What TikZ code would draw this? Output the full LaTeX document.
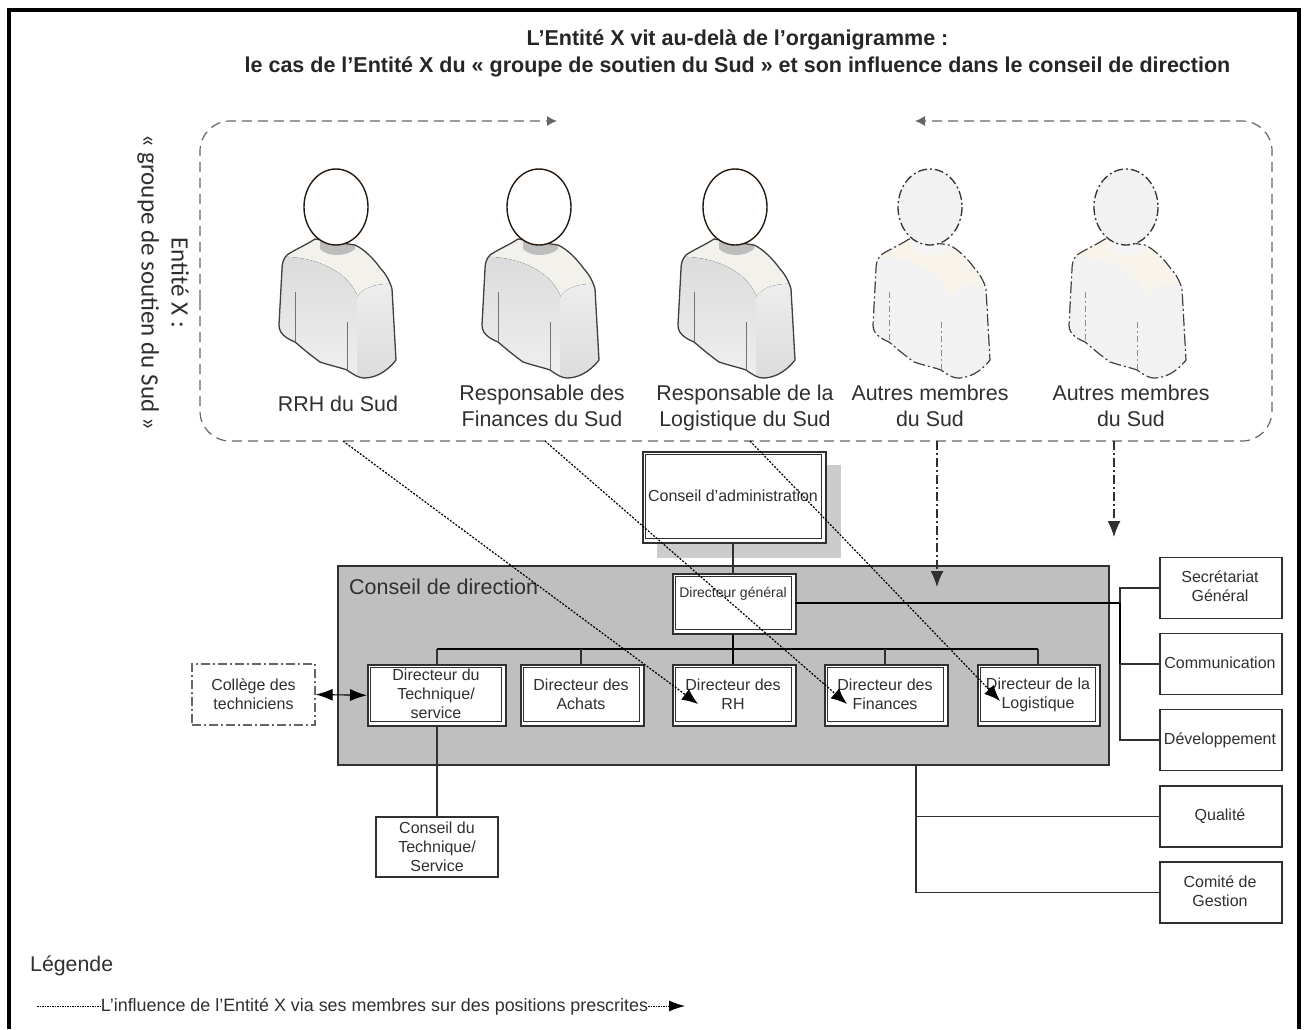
\documentclass[tikz,border=0pt]{standalone}
\usepackage{fontspec}
\setmainfont{Liberation Sans}
\newfontfamily\sidefont{Carlito}
\usetikzlibrary{arrows.meta}
\definecolor{ink}{HTML}{303030}
\definecolor{panelgray}{HTML}{BFBFBF}
\definecolor{yoke}{HTML}{F3F1EB}
\definecolor{lightyoke}{HTML}{F8F4EC}
\definecolor{lightbody}{HTML}{F2F2F2}
\tikzset{
  px/.style={x=1pt,y=-1pt},
  boxtxt/.style={font=\fontsize{16}{19}\selectfont,text=ink,align=center,inner sep=0pt},
  persontxt/.style={font=\fontsize{21.4}{26}\selectfont,text=ink,align=center,inner sep=0pt},
  plainbox/.style={draw=ink,line width=1.3pt,fill=white},
  wire/.style={draw=ink,line width=1.3pt},
  thickwire/.style={draw=black,line width=1.7pt},
  bigtip/.style={-{Latex[length=16pt,width=13pt]}},
  infl/.style={draw=black,line width=1.2pt,dash pattern=on 2pt off 1.5pt,bigtip},
  dashdotline/.style={draw=ink,line width=1.3pt,dash pattern=on 9pt off 3pt on 2pt off 3pt},
  groupline/.style={draw=black!60,line width=1.2pt,dash pattern=on 10pt off 6pt,rounded corners=30pt},
  headdark/.style={draw=black!80!brown,line width=1.4pt,fill=white},
  headlight/.style={draw=black!80,line width=1.3pt,dash pattern=on 9pt off 3pt on 2pt off 3pt,fill=lightbody},
  bodydark/.style={draw=black!75,line width=1.3pt},
  bodylight/.style={draw=black!75,line width=1.2pt,dash pattern=on 12pt off 3pt on 2pt off 3pt},
}
\newcommand{\dblrect}[5]{%
  \node[draw=ink,line width=1.6pt,fill=white,minimum width=#3-#1,minimum height=#4-#2,inner sep=0pt,anchor=north west] (#5) at (#1,#2) {};
  \draw[ink,line width=1.3pt] (#1+3.4,#2+3.4) rectangle (#3-3.4,#4-3.4);
}
\newcommand{\personfig}[5]{% x, paint macro, body style, fold style, head style
  \begin{scope}[shift={(#1,207)}]
    \def\bodypath{(-21,32) .. controls (-30,38) and (-42,43) .. (-49,48) .. controls (-53,52) and (-54,57) .. (-54,62) -- (-57,118) .. controls (-57,123) and (-55,127) .. (-49,131) .. controls (-46,133) and (-43,134) .. (-41,135) .. controls (-36,139) and (-31,144) .. (-16,155) .. controls (-4,159) and (6,161) .. (11,163) .. controls (18,168) and (23,171) .. (28,171) .. controls (38,171) and (50,166) .. (60,153) -- (56,82) .. controls (54,74) and (49,66) .. (45,62) .. controls (38,52) and (28,42) .. (19,38) -- cycle}
    \begin{scope}
      \clip \bodypath;
      #2
    \end{scope}
    \path[#3] \bodypath;
    \path[#4] (-41,85) -- (-41,135);
    \path[#4] (11,115) -- (11,163);
    \path[#5] (0,0) ellipse[x radius=32,y radius=38];
  \end{scope}
}
\newcommand{\darkpaint}{%
  \fill[yoke] (-60,25) rectangle (65,100);
  \fill[top color=black!14,bottom color=black!6] (-60,50) .. controls (-25,48) and (10,62) .. (21,88) -- (21,175) -- (-60,175) -- cycle;
  \fill[top color=black!7,bottom color=black!14] (21,90) .. controls (28,80) and (40,76) .. (62,77) -- (62,175) -- (21,175) -- cycle;
  \fill[black!26] (-16,30) -- (19,30) -- (19,42) .. controls (10,50) and (-8,50) .. (-16,42) -- cycle;
}
\newcommand{\lightpaint}{%
  \fill[lightyoke] (-60,25) rectangle (65,100);
  \fill[lightbody] (-60,50) .. controls (-25,48) and (10,62) .. (21,88) -- (21,175) -- (-60,175) -- cycle;
  \fill[lightbody] (21,90) .. controls (28,80) and (40,76) .. (62,77) -- (62,175) -- (21,175) -- cycle;
  \fill[black!4] (-16,30) -- (19,30) -- (19,42) .. controls (10,50) and (-8,50) .. (-16,42) -- cycle;
}
\begin{document}
\begin{tikzpicture}[px]
\useasboundingbox (0,0) rectangle (1304,1029);
\fill[white] (0,0) rectangle (1304,1029);
\draw[black,line width=4pt] (9,1029) -- (9,9.5) -- (1299,9.5) -- (1299,1029);

% title
\node[font=\bfseries\fontsize{21.5}{27}\selectfont,text=black!85,align=center,inner sep=0pt] (title) at (737.5,53.5)
  {L’Entité X vit au-delà de l’organigramme :\\le cas de l’Entité X du « groupe de soutien du Sud » et son influence dans le conseil de direction};

% side label
\node[font=\sidefont\fontsize{25}{30}\selectfont,text=ink,rotate=-90,align=center,inner sep=0pt] (side) at (163,282.5) {Entité X :\\« groupe de soutien du Sud »};

% group outline
\coordinate (gl) at (557,121);
\coordinate (gr) at (915,121);
\draw[groupline,-{Latex[length=10pt,width=10pt]}] (200,300) -- (200,121) -- (gl);
\draw[groupline,-{Latex[length=10pt,width=10pt]}] (1272,300) -- (1272,121) -- (gr);
\draw[groupline] (200,300) -- (200,441) -- (1272,441) -- (1272,300);

% persons
\personfig{336}{\darkpaint}{bodydark}{draw=black!55,line width=1pt}{headdark}
\personfig{539}{\darkpaint}{bodydark}{draw=black!55,line width=1pt}{headdark}
\personfig{735}{\darkpaint}{bodydark}{draw=black!55,line width=1pt}{headdark}
\personfig{930}{\lightpaint}{bodylight}{draw=black!45,line width=1pt,dash pattern=on 6pt off 3pt on 2pt off 3pt}{headlight}
\personfig{1126}{\lightpaint}{bodylight}{draw=black!45,line width=1pt,dash pattern=on 6pt off 3pt on 2pt off 3pt}{headlight}

\node[persontxt] (p1) at (338,404) {RRH du Sud};
\node[persontxt] (p2) at (542,406) {Responsable des\\Finances du Sud};
\node[persontxt] (p3) at (745,408) {Responsable de la\\Logistique du Sud};
\node[persontxt] (p4) at (930,406) {Autres membres\\du Sud};
\node[persontxt] (p5) at (1131,406) {Autres membres\\du Sud};

% conseil d'administration
\fill[black!20] (657,465) rectangle (841,558);
\dblrect{642}{451}{825}{542}{ca}
\node[boxtxt] (catxt) at (733,496) {Conseil d’administration};

% panel
\node[draw=ink,line width=1.5pt,fill=panelgray,minimum width=771pt,minimum height=199pt,inner sep=0pt,anchor=north west] (panel) at (337,565) {};
\node[font=\fontsize{21.5}{24}\selectfont,text=ink,anchor=west,inner sep=0pt] (paneltxt) at (349,587) {Conseil de direction};

% internal wiring
\draw[thickwire,line width=1.3pt] (437,649) -- (1038,649);
\foreach \wx in {437,581,885,1038} \draw[wire] (\wx,649) -- (\wx,664);
\draw[wire] (733,542) -- (733,573);
\draw[thickwire] (733,633) -- (733,664);

% directors
\dblrect{672}{573}{795}{633}{dg}
\node[boxtxt,font=\fontsize{14}{19}\selectfont] (dgt) at (733,594) {Directeur général};
\dblrect{367}{664}{505}{725}{dt}
\node[boxtxt] (dtt) at (436,694) {Directeur du\\Technique/\\service};
\dblrect{520}{664}{643}{725}{da}
\node[boxtxt] (dat) at (581,694) {Directeur des\\Achats};
\dblrect{672}{664}{795}{725}{drh}
\node[boxtxt] (drht) at (733,694) {Directeur des\\RH};
\dblrect{824}{664}{947}{725}{df}
\node[boxtxt] (dft) at (885,694) {Directeur des\\Finances};
\dblrect{977}{664}{1099}{725}{dl}
\node[boxtxt] (dlt) at (1038,695) {Directeur de la\\Logistique};

% right boxes
\node[plainbox,minimum width=122pt,minimum height=61pt,inner sep=0pt] (s1) at (1221,588) {};
\node[plainbox,minimum width=122pt,minimum height=61pt,inner sep=0pt] (s2) at (1221,664) {};
\node[plainbox,minimum width=122pt,minimum height=61pt,inner sep=0pt] (s3) at (1221,740) {};
\node[plainbox,minimum width=122pt,minimum height=61pt,inner sep=0pt] (s4) at (1221,816.5) {};
\node[plainbox,minimum width=122pt,minimum height=61pt,inner sep=0pt] (s5) at (1221,892.5) {};
\node[boxtxt] (s1t) at (1220,586.5) {Secrétariat\\Général};
\node[boxtxt] (s2t) at (1220,663) {Communication};
\node[boxtxt] (s3t) at (1220,740.5) {Développement};
\node[boxtxt] (s4t) at (1220,816.5) {Qualité};
\node[boxtxt] (s5t) at (1220,891.5) {Comité de\\Gestion};

\coordinate (dgr) at (795,603);
\coordinate (rb) at (1120,603);
\draw[thickwire] (dgr) -- (rb);
\draw[thickwire] (rb) -- (1120,664);
\draw[wire] (1120,664) -- (1120,740) -- (s3.west);
\draw[wire] (rb) -- (1120,588) -- (s1.west);
\draw[wire] (1120,664) -- (s2.west);
\coordinate (qb) at (916,764);
\draw[wire] (qb) -- (916,892.5) -- (s5.west);
\draw[wire] (916,816.5) -- (s4.west);

% college
\node[draw=black!60,line width=1.3pt,dash pattern=on 9pt off 3pt on 2pt off 3pt,minimum width=123pt,minimum height=61pt,boxtxt] (coll) at (253.5,694.5) {Collège des\\techniciens};
\draw[black,line width=1.1pt,{Latex[length=17pt,width=12pt]}-{Latex[length=17pt,width=12pt]}] (coll.east) -- (dt.west);

% conseil technique
\node[plainbox,minimum width=122pt,minimum height=60pt,boxtxt] (ct) at (437,847) {Conseil du\\Technique/\\Service};
\draw[wire] (437,725) -- (ct.north);

% influence arrows
\coordinate (a1s) at (343,441);
\coordinate (a1e) at (698,704);
\coordinate (a2s) at (545,441);
\coordinate (a2e) at (847,704);
\coordinate (a3s) at (750,441);
\coordinate (a3e) at (1000,701);
\draw[infl] (a1s) -- (a1e);
\draw[infl] (a2s) -- (a2e);
\draw[infl] (a3s) -- (a3e);

% dash-dot arrows
\coordinate (b1s) at (937,441);
\coordinate (b1e) at (937,587);
\coordinate (b2s) at (1114,441);
\coordinate (b2e) at (1114,537);
\draw[dashdotline,bigtip] (b1s) -- (b1e);
\draw[dashdotline,bigtip] (b2s) -- (b2e);

% legend
\node[font=\fontsize{21.3}{24}\selectfont,text=ink,anchor=west,inner sep=0pt] (leg) at (30,966) {Légende};
\node[font=\fontsize{17.9}{20}\selectfont,text=ink,inner sep=0pt] (legt) at (374.5,1007) {L’influence de l’Entité X via ses membres sur des positions prescrites};
\coordinate (ls) at (37,1006);
\coordinate (le) at (685,1006);
\draw[black,line width=1pt,dash pattern=on 1.5pt off 1pt] (ls) -- (legt.west |- ls);
\draw[black,line width=1pt,dash pattern=on 1.5pt off 1pt,-{Latex[length=16pt,width=11pt]}] (legt.east |- le) -- (le);
\end{tikzpicture}
\end{document}
